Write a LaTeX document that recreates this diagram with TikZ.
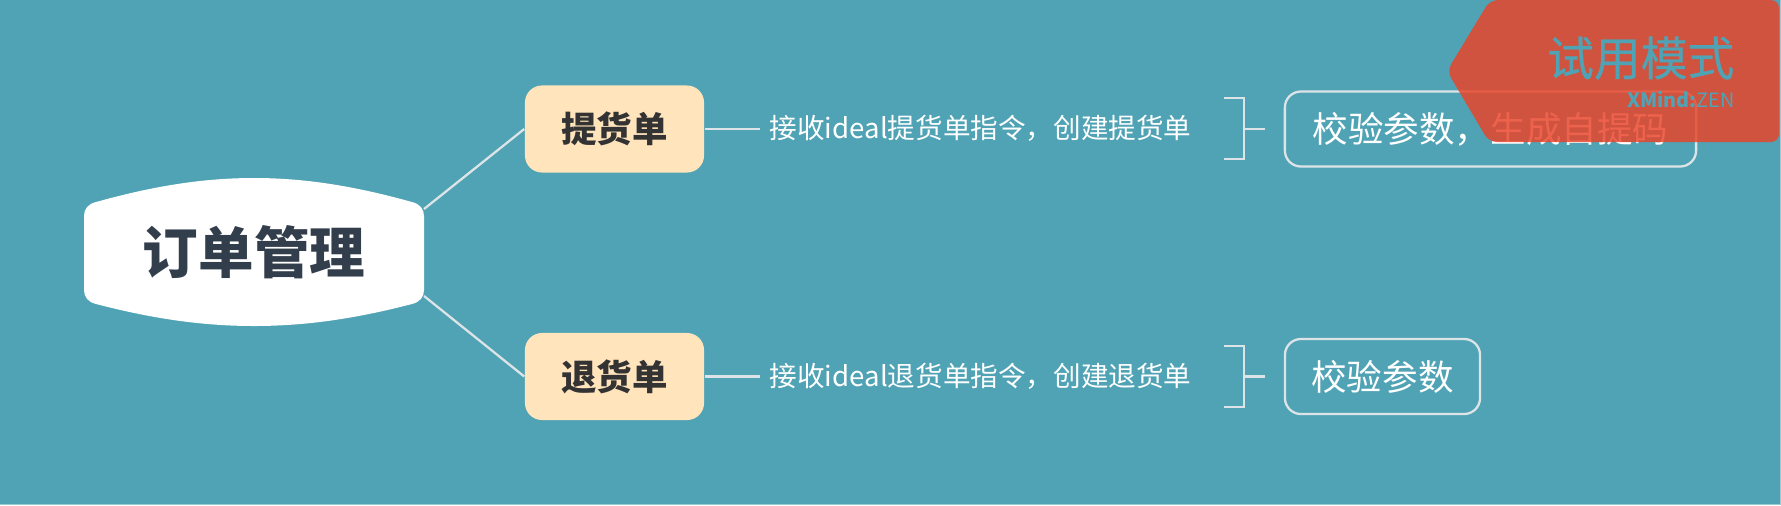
\documentclass[tikz,border=0pt]{standalone}
\usepackage{fontspec}
\setmainfont{Noto Sans CJK SC}
\newfontfamily\trialfont[FakeBold=0.5]{Noto Sans CJK SC}
\newcommand{\widecomma}{\symbol{"FF0C}}
\definecolor{sea}{HTML}{50A3B5}
\definecolor{seaedge}{HTML}{9CCAD4}
\definecolor{ribbon}{HTML}{EA4328}
\definecolor{slate}{HTML}{333E4C}
\definecolor{sand}{HTML}{FFE4BC}
\definecolor{wire}{HTML}{DCE4E7}
\tikzset{
  orderbox/.style={fill=sand,rounded corners=1.7mm,minimum width=1.79cm,minimum height=0.87cm,inner sep=0pt,text=black!80,font=\fontsize{10.1pt}{12pt}\selectfont\bfseries},
  infolabel/.style={text=white,inner sep=0pt,font=\fontsize{7.85pt}{10pt}\selectfont},
  checkbox/.style={draw=wire,line width=0.65pt,rounded corners=1.6mm,inner sep=0pt,minimum height=0.75cm,text=white,font=\fontsize{10.1pt}{12pt}\selectfont},
  wireline/.style={draw=wire,line width=0.65pt},
}
\begin{document}
\begin{tikzpicture}[x=0.01cm,y=-0.01cm]
\fill[sea] (0,0) rectangle (1781,505);
\useasboundingbox (0,0) rectangle (1781,505);
\draw[seaedge,line width=0.3pt] (1780.5,0) -- (1780.5,504.5) -- (0,504.5);
\fill[white] (96,202) .. controls (150,187) and (200,178) .. (254,178) .. controls (308,178) and (358,187) .. (412,202)
  .. controls (420,204) and (424,209) .. (424,216) -- (424,290) .. controls (424,297) and (420,302) .. (412,304)
  .. controls (358,318) and (308,326) .. (254,326) .. controls (200,326) and (150,318) .. (96,304)
  .. controls (88,302) and (84,297) .. (84,290) -- (84,216) .. controls (84,209) and (88,204) .. (96,202) -- cycle;
\node[inner sep=0pt,text=slate,font=\fontsize{15.8pt}{18pt}\selectfont\bfseries] (order) at (254,252) {订单管理};
\coordinate (orderup) at (424,209);
\coordinate (orderdown) at (424,296);
\node[orderbox] (pick) at (614.5,129) {提货单};
\node[orderbox] (back) at (614.5,376.5) {退货单};
\draw[wireline] (orderup) -- (pick.west);
\draw[wireline] (orderdown) -- (back.west);
\node[infolabel,anchor=west] (pickinfo) at (769,128.5) {接收ideal提货单指令\widecomma 创建提货单};
\node[infolabel,anchor=west] (backinfo) at (769,376.5) {接收ideal退货单指令\widecomma 创建退货单};
\coordinate (pickstub) at (760,129);
\coordinate (backstub) at (760,376.5);
\draw[wireline] (pick.east) -- (pickstub);
\draw[wireline] (back.east) -- (backstub);
\node[checkbox,minimum width=4.11cm] (pickcheck) at (1490.5,129) {校验参数\widecomma 生成自提码};
\node[checkbox,minimum width=1.95cm] (backcheck) at (1382.5,376.5) {校验参数};
\coordinate (pickbrace) at (1244,129);
\coordinate (backbrace) at (1244,376.5);
\coordinate (picktick) at (1265,129);
\coordinate (backtick) at (1265,376.5);
\draw[wireline] (1224,98) -- (1244,98) -- (1244,159) -- (1224,159);
\draw[wireline] (1224,346) -- (1244,346) -- (1244,407) -- (1224,407);
\draw[wireline] (pickbrace) -- (picktick);
\draw[wireline] (backbrace) -- (backtick);
\fill[ribbon,fill opacity=0.83,rounded corners=0.8mm] (1490,0) -- (1779,0) -- (1779,142) -- (1489,142) -- (1447,71) -- cycle;
\node[anchor=east,inner sep=0pt,text=sea,font=\fontsize{13.3pt}{15pt}\selectfont\trialfont] (trial) at (1735,58) {试用模式};
\node[anchor=east,inner sep=0pt,text=sea,font=\fontsize{5.6pt}{7pt}\selectfont] (brand) at (1735,99) {\textbf{XMind:}ZEN};
\end{tikzpicture}
\end{document}
